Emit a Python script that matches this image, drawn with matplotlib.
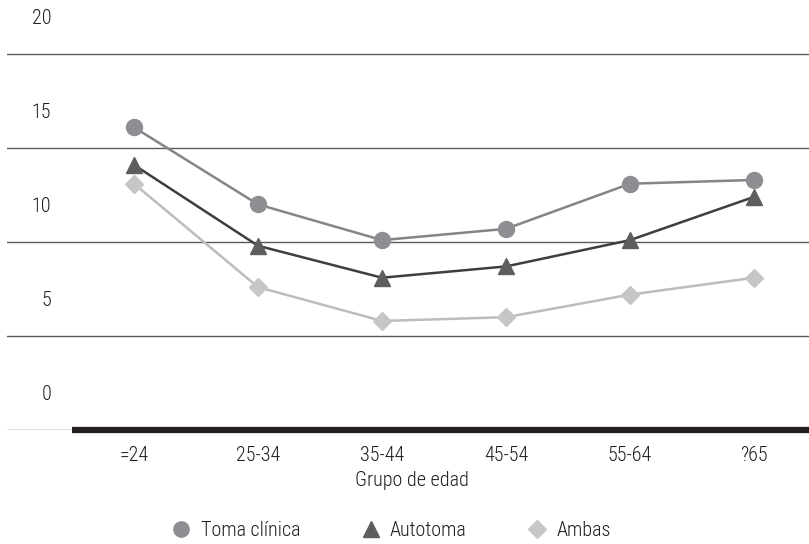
import matplotlib
matplotlib.use("Agg")
import matplotlib.pyplot as plt
from matplotlib.transforms import ScaledTranslation
from matplotlib.lines import Line2D

plt.rcParams['font.family'] = ['Roboto Condensed', 'Archivo Narrow', 'DejaVu Sans']
plt.rcParams['font.weight'] = 300
plt.rcParams['axes.labelweight'] = 300

# Data
grupos = ["=24", "25-34", "35-44", "45-54", "55-64", "?65"]
toma_clinica = [16.1, 12.0, 10.1, 10.7, 13.1, 13.3]
autotoma = [14.1, 9.8, 8.1, 8.7, 10.1, 12.4]
ambas = [13.1, 7.6, 5.8, 6.0, 7.2, 8.1]
y_ticks = [0, 5, 10, 15, 20]

series = [
    ("Toma clínica", toma_clinica, "o", "#8e8e92", "#858585", 11.5, 11),
    ("Autotoma", autotoma, "^", "#5e5e5e", "#3e3e3e", 11.5, 11),
    ("Ambas", ambas, "D", "#c6c6c6", "#bdbdbd", 9.5, 9),
]

W, H = 809, 544
FS = 14.5
TXT = '#1e1e1e'
fig = plt.figure(figsize=(W / 100, H / 100), dpi=100)
ax = fig.add_axes([7 / W, 114 / H, (816 - 7) / W, 430 / H])
x = list(range(len(grupos)))

ax.set_xlim(-(134 - 7) / 124, 5.5)
ax.set_ylim(0, 430 / 18.8)

for s in ax.spines.values():
    s.set_visible(False)

# horizontal gridlines
ax.set_yticks(y_ticks)
ax.grid(axis='y', color='#5a5a5a', lw=1.0)
ax.set_axisbelow(True)
ax.tick_params(axis='y', length=0, labelsize=FS, labelcolor=TXT)
offset = ScaledTranslation(49 / 100, 38 / 100, fig.dpi_scale_trans)
for lab in ax.get_yticklabels():
    lab.set_transform(lab.get_transform() + offset)

# category axis
ax.set_xticks(x, grupos)
ax.tick_params(axis='x', length=0, pad=11.5, labelsize=FS, labelcolor=TXT)
ax.hlines(0, -0.5, 5.5, color='#231f20', lw=4.5, clip_on=False, zorder=3)
ax.set_xlabel("Grupo de edad", fontsize=FS, color=TXT, labelpad=4, fontweight=300)

for name, vals, m, mc, lc, ms, lms in series:
    ax.plot(x, vals, color=lc, lw=1.8, marker=m, markersize=ms,
            markerfacecolor=mc, markeredgecolor=mc, zorder=4, clip_on=False)

handles = [Line2D([], [], ls='none', marker=m, markersize=lms, markerfacecolor=mc,
                  markeredgecolor=mc, label=name)
           for name, vals, m, mc, lc, ms, lms in series]
fig.legend(handles=handles, loc='center', bbox_to_anchor=(390 / W, 1 - 531 / H),
           ncol=3, frameon=False, fontsize=FS, handletextpad=0.35,
           columnspacing=2.9, handlelength=1.2, labelcolor=TXT)

fig.savefig("out.png", dpi=100)
